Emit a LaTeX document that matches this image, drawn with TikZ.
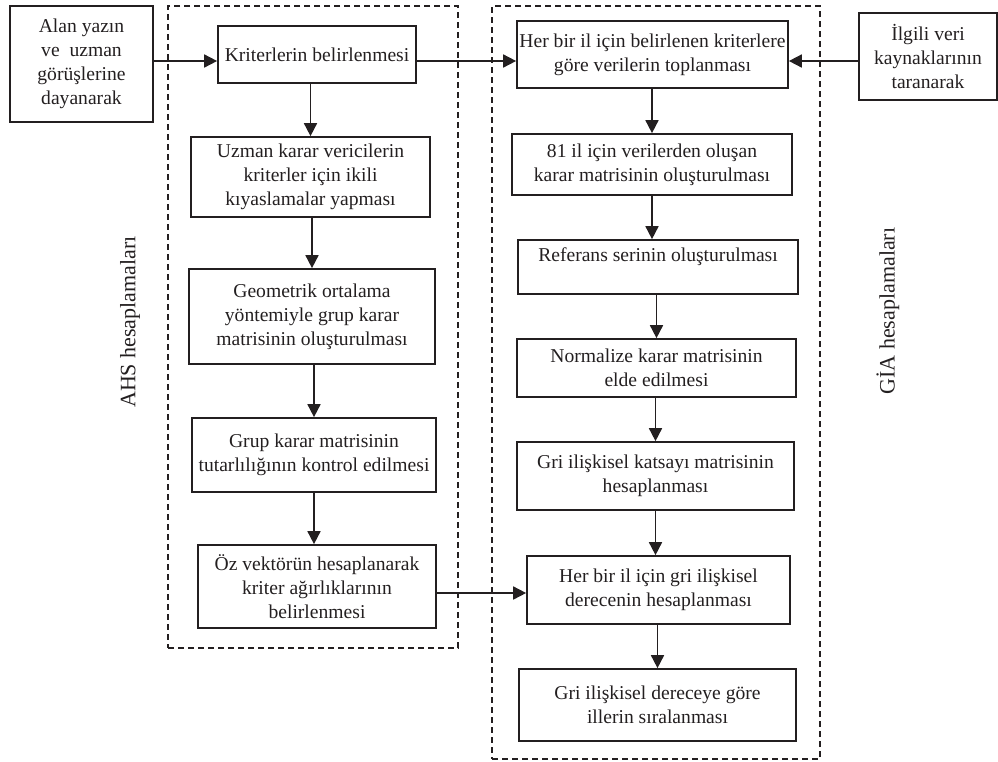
\documentclass[tikz,border=0pt]{standalone}
\usepackage{fontspec}
\setmainfont{Liberation Serif}
\usetikzlibrary{arrows.meta}
\definecolor{ink}{HTML}{231F20}
\begin{document}
\begin{tikzpicture}[x=1pt,y=-1pt,
  box/.style={draw=ink, line width=1.7pt, align=center, inner sep=0pt,
    font=\fontsize{19.6}{24}\selectfont, text=ink},
  arr/.style={draw=ink, line width=1.7pt, -{Triangle[length=13pt,width=13pt]}},
  lane/.style={draw=ink, line width=1.4pt, dash pattern=on 6pt off 4pt, inner sep=0pt},
  side/.style={rotate=90, font=\fontsize{22}{26}\selectfont, text=ink, inner sep=0pt}]
\useasboundingbox (0,0) rectangle (998,761);

% dashed containers
\node[lane, minimum width=290pt, minimum height=642pt] (ahsbox) at (313,327) {};
\node[lane, minimum width=328pt, minimum height=753pt] (giabox) at (656,382.5) {};

% outer inputs
\node[box, minimum width=143pt, minimum height=116pt] (alan) at (81.5,64)
  {Alan yazın\\ve\ \ uzman\\görüşlerine\\dayanarak};
\node[box, minimum width=138pt, minimum height=87pt] (ilgili) at (928,56.5)
  {İlgili veri\\kaynaklarının\\taranarak};

% AHS column
\node[box, minimum width=198pt, minimum height=57pt] (krit) at (317,54.5)
  {Kriterlerin belirlenmesi};
\node[box, minimum width=239pt, minimum height=80pt] (uzman) at (310.5,177)
  {Uzman karar vericilerin\\kriterler için ikili\\kıyaslamalar yapması};
\node[box, minimum width=246pt, minimum height=95pt] (geo) at (312,316.5)
  {Geometrik ortalama\\yöntemiyle grup karar\\matrisinin oluşturulması};
\node[box, minimum width=244pt, minimum height=74pt] (grup) at (314,455)
  {Grup karar matrisinin\\tutarlılığının kontrol edilmesi};
\node[box, minimum width=238pt, minimum height=83pt] (oz) at (317,586.5)
  {Öz vektörün hesaplanarak\\kriter ağırlıklarının\\belirlenmesi};

% GIA column
\node[box, minimum width=271pt, minimum height=67pt] (her1) at (652.5,54.5)
  {Her bir il için belirlenen kriterlere\\göre verilerin toplanması};
\node[box, minimum width=280pt, minimum height=61pt] (il81) at (652,164.5)
  {81 il için verilerden oluşan\\karar matrisinin oluşturulması};
\node[box, minimum width=280pt, minimum height=54pt] (ref) at (658,267)
  {Referans serinin oluşturulması\\\mbox{}};
\node[box, minimum width=279pt, minimum height=58pt] (norm) at (656.5,368)
  {Normalize karar matrisinin\\elde edilmesi};
\node[box, minimum width=277pt, minimum height=68pt] (gri1) at (655.5,476)
  {Gri ilişkisel katsayı matrisinin\\hesaplanması};
\node[box, minimum width=263pt, minimum height=68pt] (her2) at (658.5,590)
  {Her bir il için gri ilişkisel\\derecenin hesaplanması};
\node[box, minimum width=277pt, minimum height=72pt] (gri2) at (657.5,705)
  {Gri ilişkisel dereceye göre\\illerin sıralanması};

% side labels
\node[side] (ahs) at (130,322) {AHS hesaplamaları};
\node[side] (gia) at (888,311) {GİA hesaplamaları};

% connector levels
\coordinate (yt) at (0,61);
\coordinate (yb) at (0,593);

% horizontal connectors
\draw[arr] (alan.east |- yt) -- (krit.west |- yt);
\draw[arr] (krit.east |- yt) -- (her1.west |- yt);
\draw[arr] (ilgili.west |- yt) -- (her1.east |- yt);
\draw[arr] (oz.east |- yb) -- (her2.west |- yb);

% vertical connectors AHS
\draw[arr] (krit.south -| uzman.north) -- (uzman.north);
\draw[arr] (uzman.south -| geo.north) -- (geo.north);
\draw[arr] (geo.south -| grup.north) -- (grup.north);
\draw[arr] (grup.south) -- (grup.south |- oz.north);

% vertical connectors GIA
\draw[arr] (her1.south -| il81.north) -- (il81.north);
\draw[arr] (il81.south) -- (il81.south |- ref.north);
\draw[arr] (ref.south -| norm.north) -- (norm.north);
\draw[arr] (norm.south -| gri1.north) -- (gri1.north);
\draw[arr] (gri1.south) -- (gri1.south |- her2.north);
\draw[arr] (her2.south -| gri2.north) -- (gri2.north);
\end{tikzpicture}
\end{document}
